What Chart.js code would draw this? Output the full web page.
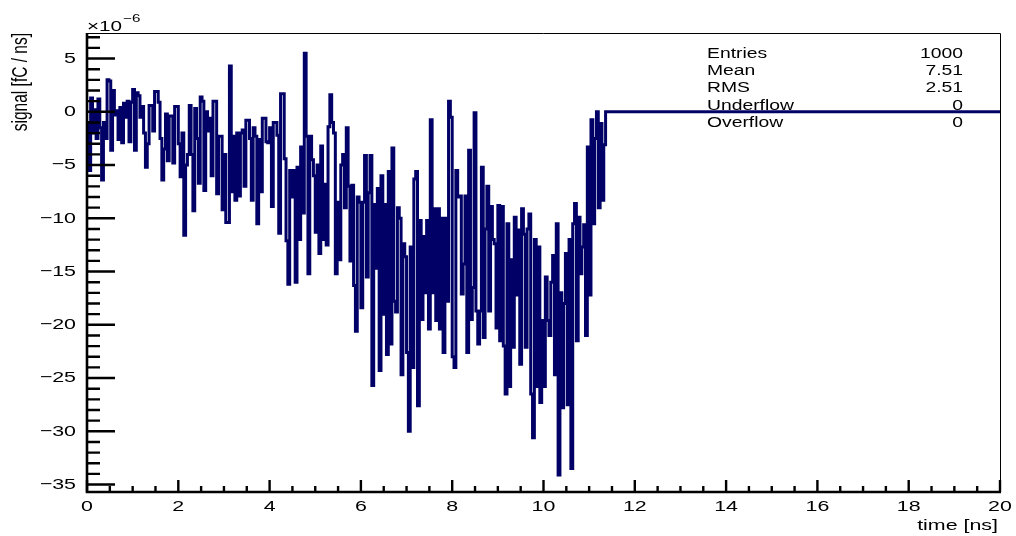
<!DOCTYPE html>
<html>
<head>
<meta charset="utf-8">
<script src="https://cdn.jsdelivr.net/npm/chart.js@4"></script>
<style>
  html, body { margin: 0; padding: 0; background: #fff; }
  canvas { display: block; }
</style>
</head>
<body>
<canvas id="signalChart" width="1016" height="536"></canvas>
<script>
// histogram contents, units of 1e-6 fC/ns, one value per 0.04 ns bin from t = 0
const signalValues = [
  -1.0, -5.5, 1.3, -2.0, 0.2, -2.5, 1.2, -1.5, -6.4, -1.0,
  -2.5, 3.0, 2.9, -3.6, 2.0, -0.3, 0.1, -2.6, 0.4, -2.9,
  0.8, -0.5, 1.0, -2.8, 0.9, 2.1, -3.6, 1.8, 1.5, -0.5,
  0.5, -2.0, -5.2, -3.0, 0.6, 0.6, -1.8, 1.9, 1.9, 0.9,
  -2.5, -6.4, -3.5, -0.2, -4.6, -0.4, -0.4, -4.8, 0.5, 0.5,
  -3.0, -6.1, -2.0, -11.6, -5.0, -4.0, 0.6, -4.0, -9.3, 0.3,
  -2.5, -6.7, 1.4, 1.0, -7.4, 0.0, -1.8, -0.6, -6.0, 1.0,
  1.0, -7.7, -2.3, -2.3, -9.2, -4.0, -10.4, -10.4, 4.3, -7.5,
  -2.3, -8.3, -2.0, -7.9, -2.0, -1.7, -7.0, -0.8, -0.8, -2.5,
  -8.3, -1.5, -2.3, -10.5, -2.6, -7.5, -0.6, -0.6, -2.8, -2.9,
  -1.5, -8.9, -1.0, -1.0, -2.2, -11.4, 1.7, 1.7, -4.4, -12.1,
  -16.2, -5.5, -8.0, -5.5, -16.0, -5.2, -12.0, -3.3, -9.5, 5.5,
  -2.3, -15.2, -2.3, -4.5, -6.0, -11.3, -5.0, -13.3, -3.2, -12.0,
  -6.8, -12.5, -1.4, 1.6, -1.0, -2.0, -15.2, -8.5, -13.9, -5.0,
  -4.0, -9.0, -1.5, -7.0, -14.0, -6.9, -16.3, -20.6, -8.0, -8.5,
  -18.4, -8.5, -4.1, -15.5, -7.6, -4.1, -25.7, -8.7, -14.7, -7.2,
  -24.3, -6.0, -19.0, -8.7, -22.8, -5.6, -21.8, -3.4, -17.8, -18.8,
  -9.0, -10.0, -24.7, -12.4, -13.6, -22.6, -30.0, -12.7, -24.0, -6.3,
  -5.6, -27.6, -10.2, -19.5, -11.7, -17.0, -10.2, -20.4, -0.75, -17.0,
  -9.1, -19.6, -9.1, -20.4, -10.0, -22.6, -10.0, -17.8, 1.0, -0.5,
  -23.0, -24.0, -5.5, -8.0, -7.9, -17.1, -14.3, -7.9, -22.6, -3.6,
  -19.5, -16.5, -0.1, -18.7, -21.8, -18.7, -5.2, -21.2, -11.0, -7.0,
  -18.7, -8.9, -12.0, -12.4, -20.3, -8.8, -21.5, -8.9, -22.0, -26.5,
  -10.5, -25.8, -13.9, -22.1, -9.9, -17.2, -11.1, -23.7, -9.1, -11.5,
  -22.1, -11.0, -9.6, -26.5, -30.6, -12.0, -25.8, -12.7, -27.3, -19.6,
  -25.8, -15.5, -19.6, -21.0, -16.0, -13.5, -24.7, -10.5, -34.1, -17.0,
  -27.8, -18.0, -13.3, -27.5, -12.0, -33.5, -10.5, -8.6, -21.5, -9.9,
  -15.2, -12.7, -10.6, -21.0, -3.3, -17.2, -0.75, -10.5, -2.5, 0.0,
  -9.0, -1.1, -8.3, -3.1
];
const binWidth = 0.04;     // ns
const tailValue = 0;       // empty bins after the pulse
const timeMax = 20;

const xTickValues = [0, 2, 4, 6, 8, 10, 12, 14, 16, 18, 20];
const yTickValues = [-35, -30, -25, -20, -15, -10, -5, 0, 5];

const statLabels = ['Entries', 'Mean', 'RMS', 'Underflow', 'Overflow'];
const statValues = ['1000', '7.51', '2.51', '0', '0'];

const NAVY = '#000066';
const FONT = '"Liberation Sans", Arial, Helvetica, sans-serif';
const SX = 1.38; // the original picture is stretched sideways

// step points at the low edge of each bin, then the empty tail out to 20 ns
const points = signalValues.map((v, i) => ({ x: i * binWidth, y: v }));
points.push({ x: signalValues.length * binWidth, y: tailValue });
points.push({ x: timeMax, y: tailValue });

function fmt(v) {
  return v < 0 ? '\u2212' + Math.abs(v) : String(v);
}

function text(ctx, str, x, y, size, align, baseline) {
  ctx.save();
  ctx.font = size + 'px ' + FONT;
  ctx.fillStyle = '#000';
  ctx.textAlign = align;
  ctx.textBaseline = baseline;
  ctx.translate(x, y);
  ctx.scale(SX, 1);
  ctx.fillText(str, 0, 0);
  ctx.restore();
}

const statsBox = {
  id: 'statsBox',
  beforeDatasetsDraw(chart) {
    const ctx = chart.ctx;
    statLabels.forEach((lab, i) => {
      const y = 54 + i * 17.3;
      text(ctx, lab, 707, y, 14, 'left', 'middle');
      text(ctx, statValues[i], 963, y, 14, 'right', 'middle');
    });
  }
};

const rootFrame = {
  id: 'rootFrame',
  afterDraw(chart) {
    const ctx = chart.ctx;
    const a = chart.chartArea;
    const xs = chart.scales.x, ys = chart.scales.y;
    ctx.save();
    // thin frame on top and right
    ctx.strokeStyle = '#000';
    ctx.lineWidth = 1;
    ctx.beginPath();
    ctx.moveTo(a.left, a.top + 0.5);
    ctx.lineTo(a.right + 0.5, a.top + 0.5);
    ctx.lineTo(a.right + 0.5, a.bottom);
    ctx.stroke();
    // axes
    ctx.lineWidth = 2.6;
    ctx.beginPath();
    ctx.moveTo(a.left, a.top);
    ctx.lineTo(a.left, a.bottom);
    ctx.lineTo(a.right + 1, a.bottom);
    ctx.stroke();
    // x ticks, pointing up
    ctx.lineWidth = 2.4;
    ctx.beginPath();
    for (let k = 0; k <= 40; k++) {
      const v = k * 0.5;
      const px = xs.getPixelForValue(v);
      const len = k % 4 === 0 ? 12 : 6;
      ctx.moveTo(px, a.bottom);
      ctx.lineTo(px, a.bottom - len);
    }
    ctx.stroke();
    // y ticks, pointing right
    ctx.beginPath();
    for (let v = -35; v <= 7; v++) {
      const py = ys.getPixelForValue(v);
      const len = v % 5 === 0 ? 28 : 13;
      ctx.moveTo(a.left, py);
      ctx.lineTo(a.left + len, py);
    }
    ctx.stroke();
    ctx.restore();

    xTickValues.forEach(v => {
      text(ctx, fmt(v), xs.getPixelForValue(v), 507, 15.5, 'center', 'middle');
    });
    yTickValues.forEach(v => {
      text(ctx, fmt(v), a.left - 11, ys.getPixelForValue(v), 15.5, 'right', 'middle');
    });

    // axis titles
    text(ctx, 'time [ns]', 998, 526, 15.5, 'right', 'middle');
    ctx.save();
    ctx.font = '15.5px ' + FONT;
    ctx.fillStyle = '#000';
    ctx.translate(21, a.top);
    ctx.scale(SX, 1);
    ctx.rotate(-Math.PI / 2);
    ctx.textAlign = 'right';
    ctx.textBaseline = 'middle';
    ctx.fillText('signal [fC / ns]', 0, 0);
    ctx.restore();

    // exponent
    ctx.save();
    ctx.font = '15px ' + FONT;
    const w = ctx.measureText('\u00d710').width * SX;
    ctx.restore();
    text(ctx, '\u00d710', a.left, 31, 15, 'left', 'alphabetic');
    text(ctx, '\u22126', a.left + w + 1, 22, 11, 'left', 'alphabetic');
  }
};

new Chart(document.getElementById('signalChart').getContext('2d'), {
  type: 'line',
  data: {
    datasets: [{
      data: points,
      borderColor: NAVY,
      borderWidth: 3,
      stepped: true,
      pointRadius: 0,
      fill: false
    }]
  },
  options: {
    responsive: false,
    animation: false,
    devicePixelRatio: 1,
    layout: { padding: { left: 0, right: 16, top: 33, bottom: 0 } },
    plugins: { legend: { display: false }, tooltip: { enabled: false } },
    scales: {
      x: {
        type: 'linear', min: 0, max: timeMax,
        grid: { display: false }, border: { display: false },
        ticks: { display: false },
        afterFit: s => { s.height = 44; }
      },
      y: {
        type: 'linear', min: -35.7, max: 7.4,
        grid: { display: false }, border: { display: false },
        ticks: { display: false },
        afterFit: s => { s.width = 87; }
      }
    }
  },
  plugins: [statsBox, rootFrame]
});
</script>
</body>
</html>
